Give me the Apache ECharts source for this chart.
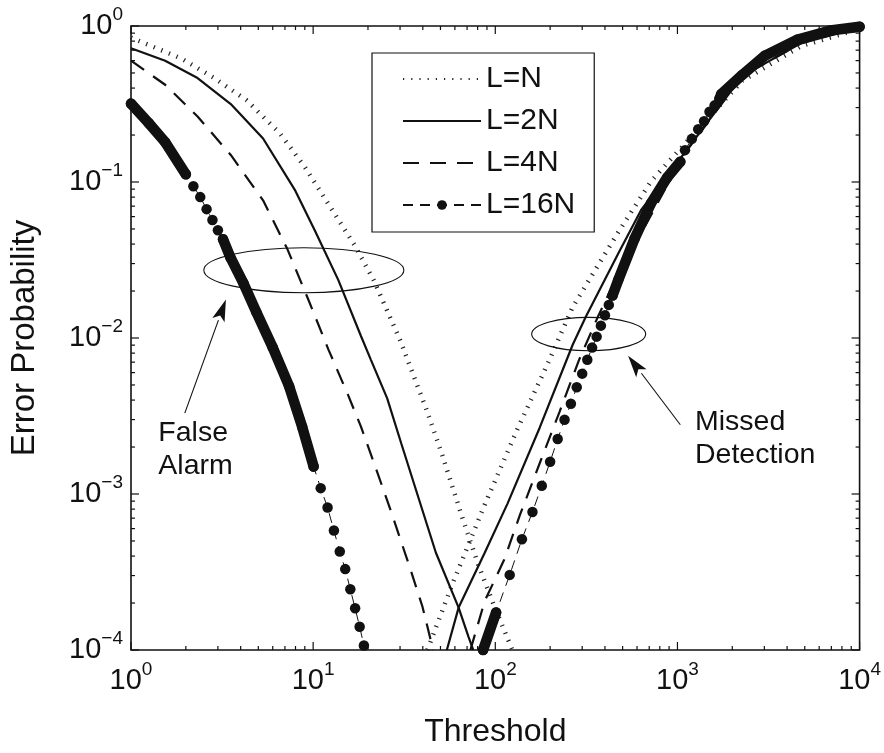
<!DOCTYPE html>
<html><head><meta charset="utf-8">
<script src="https://cdn.jsdelivr.net/npm/echarts@6/dist/echarts.min.js"></script>
<style>html,body{margin:0;padding:0;background:#fff}#c{width:884px;height:753px}</style>
</head><body><div id="c"></div>
<script>
const FONT = '"Liberation Sans", Arial, Helvetica, sans-serif';
const INK = '#111';

// ---- axis ticks ----
const xTickValues = [1, 10, 100, 1000, 10000];
const xTickExps = ['0', '1', '2', '3', '4'];
const yTickValues = [1e-4, 1e-3, 1e-2, 1e-1, 1];
const yTickExps = ['\u22124', '\u22123', '\u22122', '\u22121', '0'];
const minorMultipliers = [2, 3, 4, 5, 6, 7, 8, 9];
const xDecades = [1, 10, 100, 1000];
const yDecades = [1e-4, 1e-3, 1e-2, 1e-1];

const seriesNames = ['L=N', 'L=2N', 'L=4N', 'L=16N'];

// ---- data: [threshold, error probability] ----
// L=N (false alarm / missed detection)
const faN = [[1,0.843],[1.9,0.617],[2.86,0.464],[4.3,0.335],[6.55,0.206],[9.03,0.124],[16.8,0.0397],[21.5,0.0235],[30,0.0097],[41.8,0.0035],[50.4,0.00187],[66.9,0.00067],[80.5,0.000354],[99.4,0.000187],[124,0.0001]];
const mdN = [[42.4,0.0001],[57.7,0.000259],[87.5,0.000855],[132,0.00259],[199,0.00731],[266,0.0158],[474,0.0478],[716,0.101],[995,0.155],[2270,0.445],[4760,0.742],[10000,0.958]];
// L=2N
const fa2N = [[1,0.721],[1.54,0.599],[2.32,0.464],[3.53,0.316],[5.31,0.19],[7.98,0.088],[10.2,0.049],[13.75,0.0235],[18.3,0.0103],[20.7,0.0073],[25.5,0.0041],[30.5,0.0021],[47.2,0.00042],[62.9,0.000187],[71.2,0.000122],[75.7,0.0001]];
const md2N = [[54.2,0.0001],[62.9,0.000187],[87.5,0.00042],[116.7,0.000868],[175.5,0.00267],[266,0.00905],[314,0.0137],[474,0.0349],[632,0.0662],[876,0.109],[2270,0.478],[4760,0.774],[10000,0.979]];
// L=4N
const fa4N = [[1,0.599],[1.54,0.42],[2.32,0.263],[3.53,0.149],[5.31,0.0763],[7.23,0.037],[9.49,0.0172],[12.15,0.0084],[15.56,0.0043],[18.3,0.0027],[21.5,0.0016],[26.5,0.0008],[33.9,0.00034],[39.8,0.00019],[45.6,0.0001]];
const md4N = [[73,0.0001],[87.5,0.000206],[112,0.00038],[137,0.000742],[175.5,0.00158],[225,0.00335],[288,0.00721],[368,0.0139],[455,0.0235],[659,0.0513],[1080,0.149],[2270,0.478],[4760,0.774],[10000,0.986]];
// L=16N : densely sampled stretches (markers merge) and sparse markers
const fa16Dense1 = [[1,0.318],[1.25,0.239],[1.54,0.18],[2.0,0.112]];
const fa16Markers1 = [[2.2,0.094],[2.4,0.08],[2.6,0.067],[2.8,0.057],[3.0,0.049],[3.2,0.043]];
const fa16Dense2 = [[3.2,0.043],[3.52,0.0327],[4.14,0.0225],[4.87,0.0147],[6.0,0.0087],[7.38,0.0049],[8.7,0.0027],[10.06,0.0015]];
const fa16Markers2 = [[11,0.00109],[12,0.00082],[13,0.000583],[14,0.000428],[15,0.00033],[16,0.000245],[17,0.000185],[18,0.000141],[19,0.000107]];
const md16Dense1 = [[85.7,0.0001],[101,0.000174]];
const md16Markers1 = [[120,0.000303],[140,0.000513],[160,0.000767],[180,0.00113],[200,0.00161],[220,0.00225],[240,0.00299],[260,0.00379],[280,0.00483],[300,0.00591],[320,0.00726],[340,0.00868],[360,0.0102],[380,0.012],[400,0.014],[420,0.0163],[440,0.0187]];
const md16Dense2 = [[440,0.0187],[473,0.0235],[582,0.0434],[716,0.0731],[879,0.107],[1037,0.135]];
const md16Markers2 = [[1100,0.16],[1200,0.189],[1300,0.218],[1400,0.245],[1500,0.282],[1600,0.31],[1700,0.341]];
const md16Dense3 = [[1700,0.341],[1739,0.366],[2268,0.486],[3025,0.646],[4573,0.82],[6903,0.935],[10000,0.99]];

// ---- annotation anchors (data coordinates) ----
const ann = {
  faEllipse: {c: [8.89, 0.0272], rx: 100, ry: 22.5},
  mdEllipse: {c: [325.6, 0.0106], rx: 57, ry: 16.7},
  faArrow: {from: [1.974, 0.0033], to: [3.32, 0.01766]},
  mdArrow: {from: [1037, 0.00278], to: [536, 0.0077]},
  faText: {at: [1.413, 0.00312], text: 'False\nAlarm'},
  mdText: {at: [1248, 0.00365], text: 'Missed\nDetection'}
};

const chart = echarts.init(document.getElementById('c'), null, {renderer: 'canvas'});

const minorX = xDecades.flatMap(d => minorMultipliers.map(m => m * d));
const minorY = yDecades.flatMap(d => minorMultipliers.map(m => m * d));

function tickSeries(values, isX, len) {
  return {
    type: 'custom', silent: true, clip: false, z: 5,
    data: values.map(v => isX ? [v, 1] : [1, v]),
    renderItem: (params, api) => {
      const cs = params.coordSys;
      const p = api.coord([api.value(0), api.value(1)]);
      const style = {stroke: INK, lineWidth: 1.2};
      if (isX) {
        const x = p[0];
        return {type: 'group', children: [
          {type: 'line', shape: {x1: x, y1: cs.y + cs.height, x2: x, y2: cs.y + cs.height - len}, style},
          {type: 'line', shape: {x1: x, y1: cs.y, x2: x, y2: cs.y + len}, style}
        ]};
      }
      const y = p[1];
      return {type: 'group', children: [
        {type: 'line', shape: {x1: cs.x, y1: y, x2: cs.x + len, y2: y}, style},
        {type: 'line', shape: {x1: cs.x + cs.width, y1: y, x2: cs.x + cs.width - len, y2: y}, style}
      ]};
    }
  };
}

const dottedStyle = {color: '#222', width: 4.5, type: [1.2, 7], cap: 'butt'};
const solidStyle = {color: INK, width: 2.2};
const dashedStyle = {color: INK, width: 2.2, type: [16, 11]};
const markerLineStyle = {color: INK, width: 1, type: [10, 7]};
const thickStyle = {color: INK, width: 10.5, cap: 'round', join: 'round'};
const HIDDEN = 'rgba(0,0,0,0)';

function lineSeries(name, data, lineStyle) {
  return {name, type: 'line', data, symbol: 'none', showSymbol: false, lineStyle,
    itemStyle: {color: HIDDEN, borderColor: HIDDEN}, z: 3, animation: false, emphasis: {disabled: true}};
}
function markerSeries(name, data) {
  return {name, type: 'line', data, symbol: 'circle', symbolSize: 10.5, showSymbol: true,
    lineStyle: markerLineStyle, itemStyle: {color: INK, borderWidth: 0}, z: 4, animation: false,
    emphasis: {disabled: true}};
}
function thickSeries(data) {
  return {name: 'L=16N dense', type: 'line', data, symbol: 'none', showSymbol: false,
    lineStyle: thickStyle, itemStyle: {color: HIDDEN}, z: 4, animation: false, emphasis: {disabled: true}};
}

const richLabel = {
  b: {fontSize: 29, fontFamily: FONT, color: INK, lineHeight: 42},
  s: {fontSize: 19, fontFamily: FONT, color: INK, lineHeight: 16, verticalAlign: 'top'}
};
function expLabel(values, exps) {
  return v => {
    const i = values.findIndex(t => Math.abs(Math.log10(t) - Math.log10(v)) < 1e-6);
    return i < 0 ? '' : '{b|10}{s|' + exps[i] + '}';
  };
}

const option = {
  animation: false,
  backgroundColor: '#fff',
  grid: {left: 115, right: 24, top: 26, bottom: 79, show: true, borderColor: INK, borderWidth: 1.6, backgroundColor: 'transparent'},
  xAxis: {
    type: 'log', logBase: 10, min: 1, max: 10000, splitNumber: 4,
    name: 'Threshold', nameLocation: 'middle', nameGap: 66,
    nameTextStyle: {fontSize: 32, fontFamily: FONT, color: INK},
    axisLine: {show: false}, axisTick: {show: false}, splitLine: {show: false},
    axisLabel: {margin: 10, formatter: expLabel(xTickValues, xTickExps), rich: richLabel}
  },
  yAxis: {
    type: 'log', logBase: 10, min: 1e-4, max: 1, splitNumber: 4,
    name: 'Error Probability', nameLocation: 'middle', nameGap: 90,
    nameTextStyle: {fontSize: 33, fontFamily: FONT, color: INK},
    axisLine: {show: false}, axisTick: {show: false}, splitLine: {show: false},
    axisLabel: {margin: 8, formatter: expLabel(yTickValues, yTickExps), rich: richLabel}
  },
  legend: {
    data: seriesNames, orient: 'vertical', left: 372, top: 53,
    itemWidth: 78, itemHeight: 12, itemGap: 12,
    padding: [11, 19, 12, 30],
    borderColor: INK, borderWidth: 1.2, backgroundColor: '#fff',
    textStyle: {fontSize: 30, fontFamily: FONT, color: INK, lineHeight: 30},
    selectedMode: false
  },
  series: [
    tickSeries(minorX, true, 4), tickSeries(minorY, false, 4),
    tickSeries(xTickValues, true, 8), tickSeries(yTickValues, false, 8),
    lineSeries('L=N', faN, dottedStyle), lineSeries('L=N', mdN, dottedStyle),
    lineSeries('L=2N', fa2N, solidStyle), lineSeries('L=2N', md2N, solidStyle),
    lineSeries('L=4N', fa4N, dashedStyle), lineSeries('L=4N', md4N, dashedStyle),
    markerSeries('L=16N', [].concat(fa16Dense1, fa16Markers1, fa16Dense2.slice(1), fa16Markers2)),
    markerSeries('L=16N', [].concat(md16Dense1, md16Markers1, md16Dense2.slice(1), md16Markers2, md16Dense3.slice(1))),
    thickSeries(fa16Dense1), thickSeries(fa16Dense2),
    thickSeries(md16Dense1), thickSeries(md16Dense2), thickSeries(md16Dense3)
  ]
};
chart.setOption(option);

function px(pt) { return chart.convertToPixel({xAxisIndex: 0, yAxisIndex: 0}, pt); }
function arrow(a) {
  const p0 = px(a.from), p1 = px(a.to);
  const dx = p1[0] - p0[0], dy = p1[1] - p0[1];
  const L = Math.hypot(dx, dy), ux = dx / L, uy = dy / L;
  const hl = 22, hw = 6.5;
  const bx = p1[0] - ux * hl, by = p1[1] - uy * hl;
  return [
    {type: 'line', shape: {x1: p0[0], y1: p0[1], x2: bx, y2: by}, style: {stroke: INK, lineWidth: 1.1}},
    {type: 'polygon', shape: {points: [[p1[0], p1[1]], [bx - uy * hw, by + ux * hw], [bx + ux * 5, by + uy * 5], [bx + uy * hw, by - ux * hw]]}, style: {fill: INK}}
  ];
}
function ellipse(e) {
  const c = px(e.c);
  return {type: 'ellipse', shape: {cx: c[0], cy: c[1], rx: e.rx, ry: e.ry}, style: {fill: null, stroke: INK, lineWidth: 1.1}};
}
function label(t) {
  const p = px(t.at);
  return {type: 'text', x: p[0], y: p[1], style: {text: t.text, fontSize: 28.5, fontFamily: FONT, fill: INK, lineHeight: 32.5, align: 'left', verticalAlign: 'top'}};
}
chart.setOption({graphic: [
  ellipse(ann.faEllipse), ellipse(ann.mdEllipse),
  ...arrow(ann.faArrow), ...arrow(ann.mdArrow),
  label(ann.faText), label(ann.mdText)
].map(g => Object.assign({z: 100, silent: true}, g))});
</script>
</body></html>
